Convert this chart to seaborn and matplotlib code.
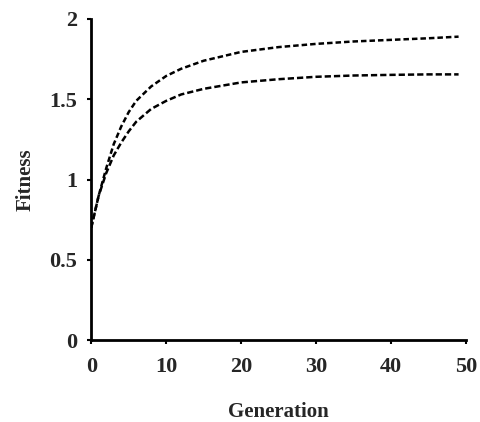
import numpy as np
import pandas as pd
import matplotlib
matplotlib.use('Agg')
import matplotlib.pyplot as plt
import seaborn as sns

# values
generation = [0, 1, 2, 3, 4, 5, 6, 8, 10, 12, 15, 20, 25, 30, 35, 40, 45, 49]
fitness_upper = [0.70, 0.90, 1.07, 1.22, 1.33, 1.42, 1.49, 1.58, 1.645, 1.69, 1.74,
                 1.795, 1.825, 1.845, 1.86, 1.87, 1.88, 1.89]
fitness_lower = [0.70, 0.90, 1.04, 1.15, 1.23, 1.30, 1.36, 1.44, 1.49, 1.53, 1.565,
                 1.605, 1.625, 1.64, 1.648, 1.652, 1.655, 1.655]

x_ticks = [0, 10, 20, 30, 40, 50]
y_ticks = [0, 0.5, 1, 1.5, 2]
y_tick_labels = ['0', '0.5', '1', '1.5', '2']

sns.set_style('ticks')
plt.rcParams['font.family'] = ['Liberation Serif', 'DejaVu Serif']
plt.rcParams['font.weight'] = 'bold'

df = pd.DataFrame({'Generation': generation, 'upper': fitness_upper, 'lower': fitness_lower})

fig = plt.figure(figsize=(4.8, 4.22), dpi=100)
ax = fig.add_axes([0.19, 0.194, 0.781, 0.761])

sns.lineplot(data=df, x='Generation', y='upper', ax=ax, color='black', linewidth=1.8,
             linestyle=(0, (2.2, 1.2)))
sns.lineplot(data=df, x='Generation', y='lower', ax=ax, color='black', linewidth=1.8,
             linestyle=(0, (2.5, 1.2)))

ax.set_xlim(0, 50)
ax.set_ylim(0, 2)
ax.set_xticks(x_ticks)
ax.set_yticks(y_ticks)
ax.set_yticklabels(y_tick_labels)
ax.tick_params(axis='both', labelsize=16, length=3, width=1.5, direction='out', color='black')
ax.tick_params(axis='x', pad=9)
ax.tick_params(axis='y', pad=7)
for lab in ax.get_xticklabels() + ax.get_yticklabels():
    lab.set_fontweight('bold')

sns.despine(ax=ax)
for s in ['left', 'bottom']:
    ax.spines[s].set_linewidth(2)
    ax.spines[s].set_color('black')

ax.set_xlabel('Generation', fontsize=15, fontweight='bold', labelpad=18)
ax.set_ylabel('Fitness', fontsize=15, fontweight='bold', labelpad=10)

fig.savefig('out.png', dpi=100, facecolor='white')
